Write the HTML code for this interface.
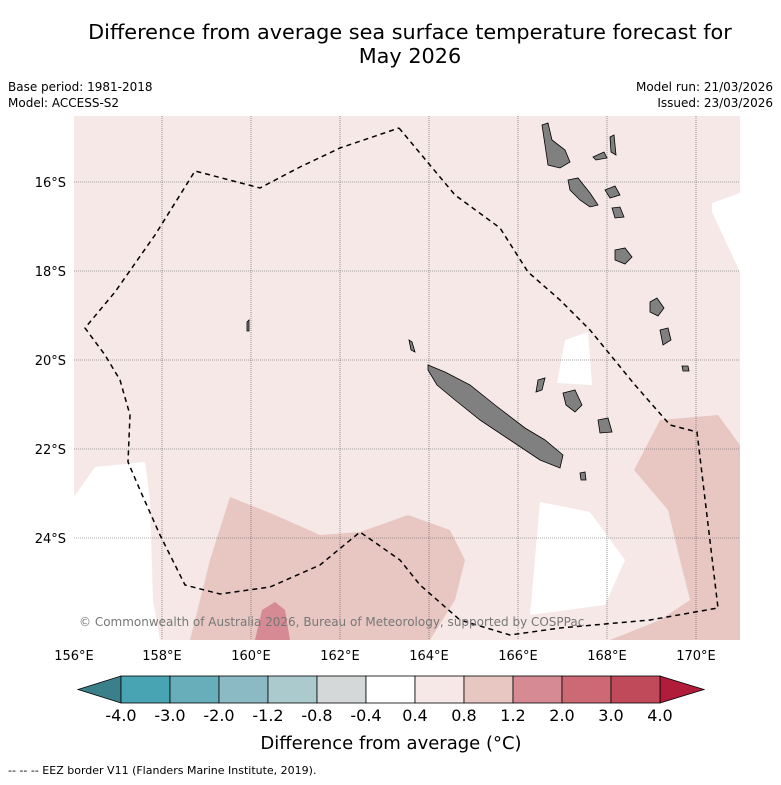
<!DOCTYPE html>
<html><head><meta charset="utf-8"><style>
body{margin:0;background:#fff;width:781px;height:781px;overflow:hidden;font-family:"DejaVu Sans",sans-serif;}
svg text{font-family:"DejaVu Sans",sans-serif;}
</style></head><body>
<svg width="781" height="781">
<text x="410" y="39" font-size="20.8" text-anchor="middle">Difference from average sea surface temperature forecast for</text>
<text x="410" y="63" font-size="20.8" text-anchor="middle">May 2026</text>
<text x="8" y="91" font-size="12">Base period: 1981-2018</text>
<text x="8" y="107" font-size="12">Model: ACCESS-S2</text>
<text x="773" y="91" font-size="12" text-anchor="end">Model run: 21/03/2026</text>
<text x="773" y="107" font-size="12" text-anchor="end">Issued: 23/03/2026</text>
<defs><clipPath id="mc"><rect x="74" y="116" width="666" height="524"/></clipPath></defs>
<g clip-path="url(#mc)">
<rect x="74" y="116" width="666" height="524" fill="#f5e8e7"/>
<polygon fill="#fff" points="74,497 95,467 145,462 150,500 153,600 160,640 74,640"/>
<polygon fill="#fff" points="712,203 740,193 740,272 712,212"/>
<polygon fill="#fff" points="557,383 565,340 588,332 592,385"/>
<polygon fill="#fff" points="530,615 540,502 590,512 625,560 605,605"/>
<polygon fill="#e8c7c2" points="634,470 660,420 718,415 740,445 740,640 610,640 660,620 690,600 680,560 668,510"/>
<polygon fill="#e8c7c2" points="190,640 210,560 230,497 275,515 320,535 360,532 408,515 450,530 465,560 455,600 430,640"/>
<polygon fill="#d68a93" points="255,640 262,610 275,602 285,610 290,640"/>
<g stroke="#555" stroke-width="0.6" stroke-dasharray="1,1">
<line x1="162" y1="116" x2="162" y2="640"/><line x1="251" y1="116" x2="251" y2="640"/><line x1="340" y1="116" x2="340" y2="640"/><line x1="429" y1="116" x2="429" y2="640"/><line x1="518" y1="116" x2="518" y2="640"/><line x1="607" y1="116" x2="607" y2="640"/><line x1="696" y1="116" x2="696" y2="640"/>
<line x1="74" y1="182" x2="740" y2="182"/><line x1="74" y1="271" x2="740" y2="271"/><line x1="74" y1="360" x2="740" y2="360"/><line x1="74" y1="449" x2="740" y2="449"/><line x1="74" y1="538" x2="740" y2="538"/>
</g>
<g fill="#808080" stroke="#000" stroke-width="0.8">
<polygon points="428,365 445,372 470,385 495,405 525,428 545,440 563,455 560,468 540,460 510,440 480,420 455,400 437,385 428,370"/>
<polygon points="542,125 548,123 552,140 565,150 570,162 560,168 548,165 545,145"/>
<polygon points="593,157 604,152 607,158 596,160"/>
<polygon points="610,137 614,135 616,155 611,152"/>
<polygon points="568,180 578,178 590,193 598,205 590,207 580,200 570,190"/>
<polygon points="605,190 615,186 620,195 610,198"/>
<polygon points="612,208 620,207 624,217 615,218"/>
<polygon points="615,250 625,248 632,257 625,264 615,260"/>
<polygon points="650,302 657,298 664,308 658,316 650,312"/>
<polygon points="660,330 668,328 671,340 663,345"/>
<polygon points="563,393 575,390 582,405 575,412 566,405"/>
<polygon points="598,420 608,418 612,432 600,433"/>
<polygon points="538,380 545,378 542,390 536,392"/>
<polygon points="580,473 585,472 586,480 581,480"/>
<polygon points="682,366 688,366 689,371 683,371"/>
<polygon points="247,322 249,320 249,331 247,331"/>
<polygon points="409,340 412,342 415,352 411,350"/>
</g>
<polyline fill="none" stroke="#000" stroke-width="1.5" stroke-dasharray="5,4" points="399,128 455,195 500,228 528,272 560,300 590,330 635,385 670,425 697,432 718,608 650,620 560,628 510,635 460,620 420,585 400,560 360,532 320,565 270,587 220,594 185,585 160,535 140,490 128,462 130,415 120,380 105,355 85,328 115,292 155,235 195,171 260,188 300,167 340,148 399,128"/>
<text x="79" y="626" font-size="12" fill="#777">© Commonwealth of Australia 2026, Bureau of Meteorology, supported by COSPPac</text>
</g>
<g font-size="13">
<text x="66" y="187" text-anchor="end">16°S</text><text x="66" y="276" text-anchor="end">18°S</text><text x="66" y="365" text-anchor="end">20°S</text><text x="66" y="454" text-anchor="end">22°S</text><text x="66" y="543" text-anchor="end">24°S</text>
</g>
<g font-size="13" text-anchor="middle">
<text x="74" y="660">156°E</text><text x="162" y="660">158°E</text><text x="251" y="660">160°E</text><text x="340" y="660">162°E</text><text x="429" y="660">164°E</text><text x="518" y="660">166°E</text><text x="607" y="660">168°E</text><text x="696" y="660">170°E</text>
</g>
<g id="cb"></g>
<text x="391" y="749" font-size="18" text-anchor="middle">Difference from average (°C)</text>
<text x="8" y="774" font-size="11">--  --  -- EEZ border V11 (Flanders Marine Institute, 2019).</text>
</svg>
<script>
const cbLabels=["-4.0","-3.0","-2.0","-1.2","-0.8","-0.4","0.4","0.8","1.2","2.0","3.0","4.0"];
const cbColors=["#48a3b2","#68adba","#8cbac4","#aacacd","#d4d8d9","#ffffff","#f5e8e7","#e8c7c2","#d68a93","#cd6975","#c14a5a"];
const g=document.getElementById('cb');const ns="http://www.w3.org/2000/svg";
const x0=121,w=49,y0=676,h=27;
function mk(t,a){const e=document.createElementNS(ns,t);for(const k in a)e.setAttribute(k,a[k]);g.appendChild(e);return e;}
let l=mk('polygon',{points:`${x0},${y0} ${x0},${y0+h} 78,${y0+h/2}`,fill:'#3a808b',stroke:'#000','stroke-width':0.8});


const xe=x0+w*cbColors.length;
let r=mk('polygon',{points:`${xe},${y0} ${xe},${y0+h} 704,${y0+h/2}`,fill:'#b01c3a',stroke:'#000','stroke-width':0.8});


cbColors.forEach((c,i)=>{const b=mk('rect',{x:x0+i*w,y:y0,width:w,height:h,fill:c,stroke:'#000','stroke-width':0.8});

});
cbLabels.forEach((s,i)=>{const t=mk('text',{x:x0+i*w,y:721,'font-size':16,'text-anchor':'middle'});t.textContent=s;

});
</script>
</body></html>
